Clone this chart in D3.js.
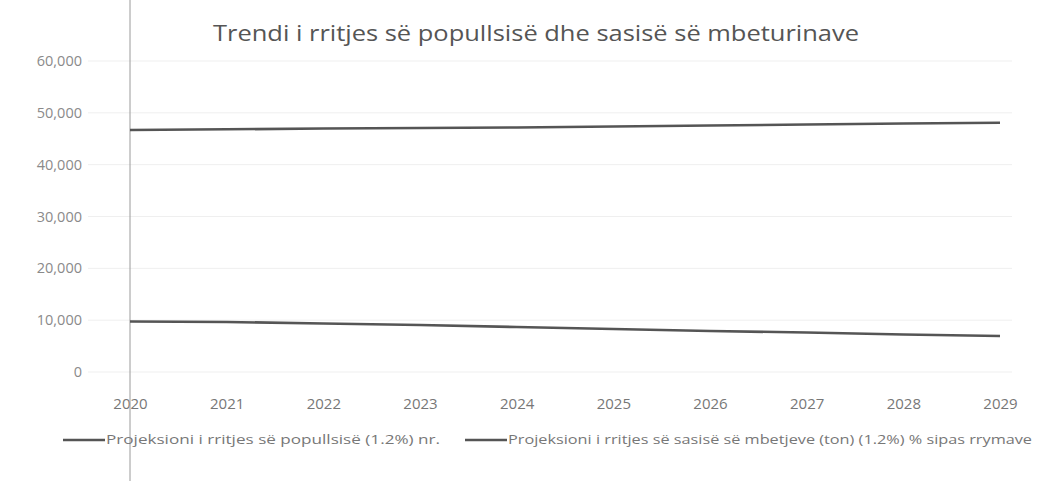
<!DOCTYPE html>
<meta charset="utf-8">
<style>
  body { margin: 0; background: #fff; }
  text { font-family: "Open Sans", sans-serif; }
</style>
<svg width="1060" height="481"></svg>
<script src="https://d3js.org/d3.v7.min.js"></script>
<script>

var years = ["2020", "2021", "2022", "2023", "2024", "2025", "2026", "2027", "2028", "2029"]
var population = [46690, 46820, 46980, 47070, 47170, 47360, 47560, 47750, 47940, 48100]
var waste = [9740, 9650, 9360, 9070, 8680, 8300, 7910, 7620, 7240, 6950]
var yTicks = [0, 10000, 20000, 30000, 40000, 50000, 60000]
var seriesNames = [
  "Projeksioni i rritjes së popullsisë (1.2%) nr.",
  "Projeksioni i rritjes së sasisë së mbetjeve (ton) (1.2%) % sipas rrymave"
]
var title = "Trendi i rritjes së popullsisë dhe sasisë së mbeturinave"

var svg = d3.select("svg")

var x = d3.scalePoint().domain(years).range([130, 1000])
var y = d3.scaleLinear().domain([0, 60000]).range([372, 61])

// faint gridlines
svg.append("g")
  .selectAll("line")
  .data(yTicks)
  .enter().append("line")
    .attr("x1", 88).attr("x2", 1012)
    .attr("y1", function (d) { return y(d) })
    .attr("y2", function (d) { return y(d) })
    .attr("stroke", "#efefef")
    .attr("stroke-width", 1)

// y axis labels
var yAxis = d3.axisLeft(y).tickValues(yTicks).tickSize(0).tickPadding(0)
  .tickFormat(d3.format(","))
svg.append("g")
  .attr("transform", "translate(82,0)")
  .call(yAxis)
  .call(function (g) { g.select(".domain").remove() })
  .selectAll("text")
    .attr("fill", "#8a8a8a")
    .attr("font-size", 14.5)
    .attr("font-family", "Open Sans, sans-serif")

// x axis labels
var xAxis = d3.axisBottom(x).tickSize(0).tickPadding(0)
svg.append("g")
  .attr("transform", "translate(0,398)")
  .call(xAxis)
  .call(function (g) { g.select(".domain").remove() })
  .selectAll("text")
    .attr("fill", "#777")
    .attr("font-size", 15)
    .attr("font-family", "Open Sans, sans-serif")

// the vertical line through the page
svg.append("line")
  .attr("x1", x("2020")).attr("x2", x("2020"))
  .attr("y1", 0).attr("y2", 481)
  .attr("stroke", "#9a9a9a")
  .attr("stroke-width", 1)

var line = d3.line()
  .x(function (d, i) { return x(years[i]) })
  .y(function (d) { return y(d) })

svg.selectAll(".series")
  .data([population, waste])
  .enter().append("path")
    .attr("class", "series")
    .attr("d", line)
    .attr("fill", "none")
    .attr("stroke", "#555")
    .attr("stroke-width", 2.6)

// title
svg.append("text")
  .attr("x", 536).attr("y", 41)
  .attr("text-anchor", "middle")
  .attr("font-size", 22)
  .attr("fill", "#555")
  .attr("textLength", 646)
  .attr("lengthAdjust", "spacingAndGlyphs")
  .text(title)

// legend
var legendX = [63, 465]
var legendW = [334, 524]
var legend = svg.append("g")
  .selectAll("g")
  .data(seriesNames)
  .enter().append("g")
    .attr("transform", function (d, i) { return "translate(" + legendX[i] + ",440)" })
legend.append("line")
  .attr("x1", 0).attr("x2", 42)
  .attr("stroke", "#555")
  .attr("stroke-width", 2.4)
legend.append("text")
  .attr("x", 43).attr("dy", "0.35em")
  .attr("font-size", 12.5)
  .attr("fill", "#777")
  .attr("textLength", function (d, i) { return legendW[i] })
  .attr("lengthAdjust", "spacingAndGlyphs")
  .text(function (d) { return d })

</script>
